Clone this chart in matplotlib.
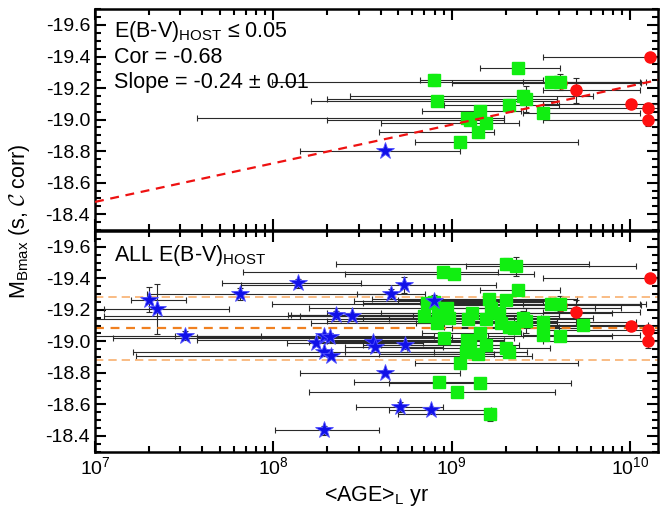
import numpy as np
import matplotlib
matplotlib.use('Agg')
import matplotlib.pyplot as plt
from matplotlib.ticker import MultipleLocator, LogLocator, NullFormatter

plt.rcParams['font.family'] = ['Liberation Sans', 'DejaVu Sans']
plt.rcParams['mathtext.fontset'] = 'custom'
plt.rcParams['mathtext.rm'] = 'Liberation Sans'
plt.rcParams['mathtext.it'] = 'Liberation Sans:italic'
plt.rcParams['mathtext.cal'] = 'cmsy10'
plt.rcParams['axes.unicode_minus'] = False

# ---- data (log10 age [yr], M_Bmax, log age lower/upper, mag error) ----
# red circles (all low-extinction)
red_age = [10.108, 9.698, 10.003, 10.10, 10.10, 9.61]
red_mag = [-19.40, -19.185, -19.10, -19.075, -19.00, -19.23]
red_lo = [9.51, 9.51, 9.51, 9.51, 9.51, 9.00]
red_hi = [10.25, 10.055, 10.25, 10.25, 10.25, 10.06]
red_err = [0.02, 0.08, 0.02, 0.03, 0.04, 0.03]

# green squares, low extinction (top panel)
grn_age = [9.372, 8.90, 9.555, 9.607, 8.917, 9.40, 9.415, 9.32, 9.158,
           9.086, 9.10, 9.19, 9.146, 9.51, 9.046]
grn_mag = [-19.327, -19.25, -19.24, -19.24, -19.116, -19.15, -19.13, -19.09,
           -19.054, -19.01, -19.00, -18.98, -18.92, -19.04, -18.86]
grn_lo = [9.157, 8.82, 7.99, 9.40, 8.21, 8.43, 8.30, 8.957, 8.835,
          7.57, 8.30, 8.60, 8.59, 9.40, 8.796]
grn_hi = [9.607, 9.51, 10.055, 10.09, 9.59, 9.79, 9.59, 9.60, 9.386,
          9.29, 9.29, 9.377, 9.237, 10.055, 9.707]
grn_err = [0.03, 0.04, 0.03, 0.05, 0.02, 0.04, 0.08, 0.04, 0.02,
           0.03, 0.02, 0.02, 0.02, 0.03, 0.02]

# green squares, rest of sample (bottom panel only)
grn2_age = [9.304, 9.36, 8.951, 9.013, 9.21, 9.304, 8.972, 8.845, 8.92,
            8.985, 9.112, 9.088, 9.19, 9.218, 9.265, 9.275, 9.35, 9.51,
            8.957, 9.078, 9.302, 9.32, 8.93, 9.159, 9.03, 9.214, 9.607,
            9.736, 8.863]
grn2_mag = [-19.49, -19.477, -19.44, -19.425, -19.27, -19.26, -19.21, -19.16,
            -19.17, -19.15, -19.18, -19.14, -19.14, -19.21, -19.18, -19.116,
            -19.085, -19.12, -19.02, -18.935, -18.957, -18.935, -18.744,
            -18.737, -18.68, -18.537, -19.036, -19.106, -19.245]
grn2_lo = [8.35, 9.08, 7.83, 8.40, 8.55, 8.70, 8.20, 7.05, 8.10,
           8.50, 8.60, 6.90, 8.65, 8.90, 8.30, 8.80, 9.00, 9.10,
           7.10, 8.40, 8.75, 8.90, 8.45, 8.65, 8.20, 8.70, 9.20,
           9.30, 8.50]
grn2_hi = [9.77, 10.03, 9.26, 9.46, 9.70, 9.55, 9.80, 9.60, 9.40,
           9.50, 9.90, 9.35, 9.70, 9.95, 9.60, 9.45, 9.75, 10.03,
           9.35, 9.30, 9.55, 9.42, 9.15, 9.67, 9.58, 9.25, 9.90,
           10.10, 9.20]
grn2_err = [0.04, 0.06, 0.02, 0.03, 0.02, 0.02, 0.03, 0.02, 0.02,
            0.02, 0.02, 0.02, 0.03, 0.02, 0.02, 0.02, 0.02, 0.03,
            0.02, 0.02, 0.02, 0.03, 0.02, 0.02, 0.02, 0.04, 0.02,
            0.03, 0.02]

# blue stars, low extinction (top panel)
blu_age = [8.625]
blu_mag = [-18.80]
blu_lo = [8.15]
blu_hi = [9.046]
blu_err = [0.02]

# blue stars, rest of sample
blu2_age = [7.30, 7.346, 7.504, 7.81, 8.136, 8.729, 8.658, 8.897, 8.35,
            8.44, 8.238, 8.285, 8.317, 8.281, 8.322, 8.559, 8.569, 8.738,
            8.709, 8.882, 8.281]
blu2_mag = [-19.263, -19.206, -19.036, -19.30, -19.368, -19.355, -19.30,
            -19.255, -19.17, -19.16, -18.99, -19.036, -19.03, -18.93,
            -18.908, -18.995, -18.967, -18.974, -18.584, -18.563, -18.435]
blu2_lo = [7.20, 7.05, 6.95, 7.29, 7.71, 7.82, 8.47, 8.45, 8.08,
           8.15, 8.075, 7.45, 7.57, 7.21, 7.23, 8.20, 8.40, 8.50,
           8.46, 8.65, 8.01]
blu2_hi = [7.51, 7.75, 7.93, 8.66, 8.49, 9.25, 8.85, 9.60, 8.95,
           8.78, 8.84, 8.90, 9.00, 9.30, 9.45, 9.10, 8.95, 9.30,
           8.95, 9.22, 8.59]
blu2_err = [0.08, 0.16, 0.03, 0.04, 0.03, 0.05, 0.03, 0.04, 0.02,
            0.02, 0.02, 0.02, 0.02, 0.02, 0.02, 0.02, 0.02, 0.02,
            0.03, 0.02, 0.03]

# fit in top panel and mean +/- sigma in bottom panel
fit_a, fit_b = -18.478, -0.245   # M = a + b*(log age - 7)
mean_mag, sig_mag = -19.082, 0.20

XMIN, XMAX = 1e7, 1.43e10


def draw_set(ax, age, mag, lo, hi, err):
    age = np.array(age)
    x = 10 ** age
    xl = x - 10 ** np.array(lo)
    xh = 10 ** np.array(hi) - x
    ax.errorbar(x, mag, xerr=[xl, xh], yerr=err, fmt='none', ecolor='#2a2a2a',
                elinewidth=0.8, capsize=2.5, capthick=0.8, zorder=2)


def draw_markers(ax, r, g, b):
    ax.plot(10 ** np.array(r[0]), r[1], 'o', color='#ff1010', ms=8, mec='#ff1010', zorder=3)
    ax.plot(10 ** np.array(g[0]), g[1], 's', color='#11ee11', ms=8.5, mec='#11ee11', zorder=4)
    ax.plot(10 ** np.array(b[0]), b[1], '*', color='#1010e8', ms=13, mec='#5050ff', mew=0.6, zorder=5)


def style(ax):
    ax.set_xscale('log')
    ax.set_xlim(XMIN, XMAX)
    ax.set_ylim(-18.3, -19.7)
    ax.yaxis.set_major_locator(MultipleLocator(0.2))
    ax.yaxis.set_minor_locator(MultipleLocator(0.05))
    ax.xaxis.set_major_locator(LogLocator(base=10))
    ax.xaxis.set_minor_locator(LogLocator(base=10, subs=np.arange(2, 10)))
    ax.xaxis.set_minor_formatter(NullFormatter())
    ax.tick_params(which='both', direction='in', top=True, right=True,
                   width=1.5, labelsize=14)
    ax.tick_params(which='major', length=8)
    ax.tick_params(which='minor', length=4)
    for s in ax.spines.values():
        s.set_linewidth(1.8)


fig = plt.figure(figsize=(6.6, 5.11), dpi=100)
ax1 = fig.add_axes([0.144, 0.550, 0.853, 0.432])
ax2 = fig.add_axes([0.144, 0.116, 0.853, 0.432])

# top panel: low extinction only
draw_set(ax1, grn_age, grn_mag, grn_lo, grn_hi, grn_err)
draw_set(ax1, blu_age, blu_mag, blu_lo, blu_hi, blu_err)
draw_set(ax1, red_age, red_mag, red_lo, red_hi, red_err)
lx = np.linspace(7, np.log10(XMAX), 50)
ax1.plot(10 ** lx, fit_a + fit_b * (lx - 7), '--', color='#ee1111', lw=1.6,
         dashes=(4, 3), zorder=6)
draw_markers(ax1, (red_age, red_mag), (grn_age, grn_mag), (blu_age, blu_mag))
style(ax1)
ax1.tick_params(labelbottom=False)
ax1.text(0.033, 0.872, 'E(B-V)$_{\\mathrm{HOST}}$ \u2264 0.05', transform=ax1.transAxes, fontsize=15.5)
ax1.text(0.033, 0.757, 'Cor = -0.68', transform=ax1.transAxes, fontsize=15.5)
ax1.text(0.033, 0.642, 'Slope = -0.24 \u00b1 0.01', transform=ax1.transAxes, fontsize=15.5)

# bottom panel: whole sample
all_g = (grn_age + grn2_age, grn_mag + grn2_mag, grn_lo + grn2_lo,
         grn_hi + grn2_hi, grn_err + grn2_err)
all_b = (blu_age + blu2_age, blu_mag + blu2_mag, blu_lo + blu2_lo,
         blu_hi + blu2_hi, blu_err + blu2_err)
draw_set(ax2, *all_g)
draw_set(ax2, *all_b)
draw_set(ax2, red_age, red_mag, red_lo, red_hi, red_err)
ax2.axhline(mean_mag, color='#f08020', lw=1.6, ls='--', dashes=(4, 3), zorder=2.5)
ax2.axhline(mean_mag - sig_mag, color='#f8b070', lw=1.2, ls='--', dashes=(5, 3), zorder=2.5)
ax2.axhline(mean_mag + sig_mag, color='#f8b070', lw=1.2, ls='--', dashes=(5, 3), zorder=2.5)
draw_markers(ax2, (red_age, red_mag), (all_g[0], all_g[1]), (all_b[0], all_b[1]))
style(ax2)
ax2.text(0.033, 0.865, r'ALL E(B-V)$_{\mathrm{HOST}}$', transform=ax2.transAxes, fontsize=15.5)
ax2.set_xlabel(r'<AGE>$_{\mathrm{L}}$ yr', fontsize=15.5, labelpad=4)

fig.text(0.030, 1 - 221 / 511, r'M$_{\mathrm{Bmax}}$ (s, $\mathcal{C}$ corr)',
         rotation=90, fontsize=15.5, ha='center', va='center')

fig.savefig('out.png', dpi=100)
